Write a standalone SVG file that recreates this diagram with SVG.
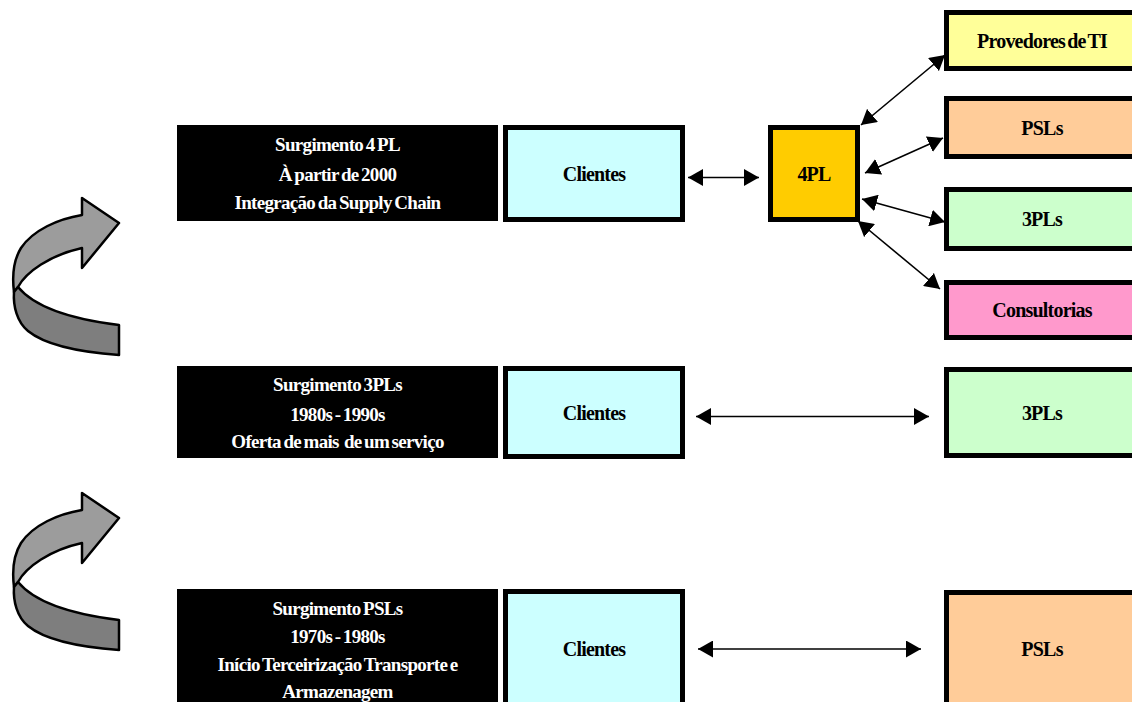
<svg xmlns="http://www.w3.org/2000/svg" width="1132" height="702" viewBox="0 0 1132 702">
  <defs>
    <style>
      .era { fill: #000; }
      .era-text { font-family: "Liberation Serif", "Times New Roman", serif; font-weight: bold; font-size: 19px; fill: #fff; text-anchor: middle; letter-spacing: -0.7px; word-spacing: -1.5px; }
      .box { stroke: #000; stroke-width: 5; }
      .label { font-family: "Liberation Serif", "Times New Roman", serif; font-weight: bold; font-size: 20px; fill: #000; text-anchor: middle; letter-spacing: -0.8px; word-spacing: -2px; }
      .clientes { fill: #CCFFFF; }
      .fourpl { fill: #FFCC00; }
      .ti { fill: #FFFF99; }
      .psl { fill: #FFCC99; }
      .tpl { fill: #CCFFCC; }
      .consult { fill: #FF99CC; }
      .link { stroke: #000; stroke-width: 1.6; fill: none; marker-start: url(#head); marker-end: url(#head); }
      .band-light { fill: #9c9c9c; stroke: #000; stroke-width: 2.5; stroke-linejoin: round; }
      .band-dark { fill: #7e7e7e; stroke: #000; stroke-width: 2.5; stroke-linejoin: round; }
    </style>
    <marker id="head" viewBox="0 0 15 17" refX="15" refY="8.5" markerWidth="15" markerHeight="17" markerUnits="userSpaceOnUse" orient="auto-start-reverse">
      <path d="M0,0 L15,8.5 L0,17 Z" fill="#000"/>
    </marker>
    <!-- curved "next stage" arrow: light upper band with head, darker lower band -->
    <g id="curl">
      <path class="band-light" d="M119,223 L82,198 L82,215 C58,219 33,230 21,248 C13,261 12,276 14,292 L18,287 C26,272 50,255 82,248 L82,268 Z"/>
      <path class="band-dark" d="M18,287 C32,304 62,318 119,325 L119,355 C78,352 44,344 28,331 C17,322 13,306 14,292 Z"/>
    </g>
  </defs>

  <!-- stage arrows on the left -->
  <g id="curl-top"><use href="#curl"/></g>
  <g id="curl-bottom"><use href="#curl" transform="translate(0,295)"/></g>

  <!-- era descriptions -->
  <g id="era-4pl">
    <rect class="era" x="177" y="125" width="321" height="96"/>
    <text class="era-text" x="337.5" y="151">Surgimento 4 PL</text>
    <text class="era-text" x="337.5" y="181">À partir de 2000</text>
    <text class="era-text" x="337.5" y="209">Integração da Supply Chain</text>
  </g>
  <g id="era-3pl">
    <rect class="era" x="177" y="366" width="321" height="92"/>
    <text class="era-text" x="337.5" y="391">Surgimento 3PLs</text>
    <text class="era-text" x="337.5" y="421">1980s - 1990s</text>
    <text class="era-text" x="337.5" y="448">Oferta de mais&#160; de um serviço</text>
  </g>
  <g id="era-psl">
    <rect class="era" x="177" y="589" width="321" height="120"/>
    <text class="era-text" x="337.5" y="615">Surgimento PSLs</text>
    <text class="era-text" x="337.5" y="643">1970s - 1980s</text>
    <text class="era-text" x="337.5" y="671">Início Terceirização Transporte e</text>
    <text class="era-text" x="337.5" y="698">Armazenagem</text>
  </g>

  <!-- clients -->
  <g id="clientes-4pl">
    <rect class="box clientes" x="505.5" y="127.5" width="177" height="92"/>
    <text class="label" x="594" y="180.5">Clientes</text>
  </g>
  <g id="clientes-3pl">
    <rect class="box clientes" x="505.5" y="368.5" width="177" height="88"/>
    <text class="label" x="594" y="420">Clientes</text>
  </g>
  <g id="clientes-psl">
    <rect class="box clientes" x="505.5" y="591.5" width="177" height="200"/>
    <text class="label" x="594" y="655.5">Clientes</text>
  </g>

  <!-- 4PL hub -->
  <g id="hub-4pl">
    <rect class="box fourpl" x="770.5" y="127.5" width="87" height="92"/>
    <text class="label" x="814" y="180.5">4PL</text>
  </g>

  <!-- partners -->
  <g id="provedores-ti">
    <rect class="box ti" x="946.5" y="12.5" width="200" height="56"/>
    <text class="label" x="1042" y="47.5">Provedores de TI</text>
  </g>
  <g id="psls-top">
    <rect class="box psl" x="946.5" y="98.5" width="200" height="58"/>
    <text class="label" x="1042" y="134.5">PSLs</text>
  </g>
  <g id="tpls-top">
    <rect class="box tpl" x="946.5" y="189.5" width="200" height="59"/>
    <text class="label" x="1042" y="225.5">3PLs</text>
  </g>
  <g id="consultorias">
    <rect class="box consult" x="946.5" y="282.5" width="200" height="55"/>
    <text class="label" x="1042" y="316.5">Consultorias</text>
  </g>
  <g id="tpls-mid">
    <rect class="box tpl" x="946.5" y="369.5" width="200" height="86"/>
    <text class="label" x="1042" y="420">3PLs</text>
  </g>
  <g id="psls-bottom">
    <rect class="box psl" x="946.5" y="592.5" width="200" height="200"/>
    <text class="label" x="1042" y="655.5">PSLs</text>
  </g>

  <!-- connectors -->
  <g id="connectors">
    <line class="link" x1="688" y1="177.5" x2="759" y2="177.5"/>
    <line class="link" x1="861" y1="125" x2="945" y2="55"/>
    <line class="link" x1="865" y1="173" x2="943" y2="138"/>
    <line class="link" x1="862" y1="199" x2="945" y2="222"/>
    <line class="link" x1="858" y1="221" x2="940" y2="289"/>
    <line class="link" x1="696" y1="416.5" x2="929" y2="416.5"/>
    <line class="link" x1="698" y1="649" x2="921" y2="649"/>
  </g>
</svg>
